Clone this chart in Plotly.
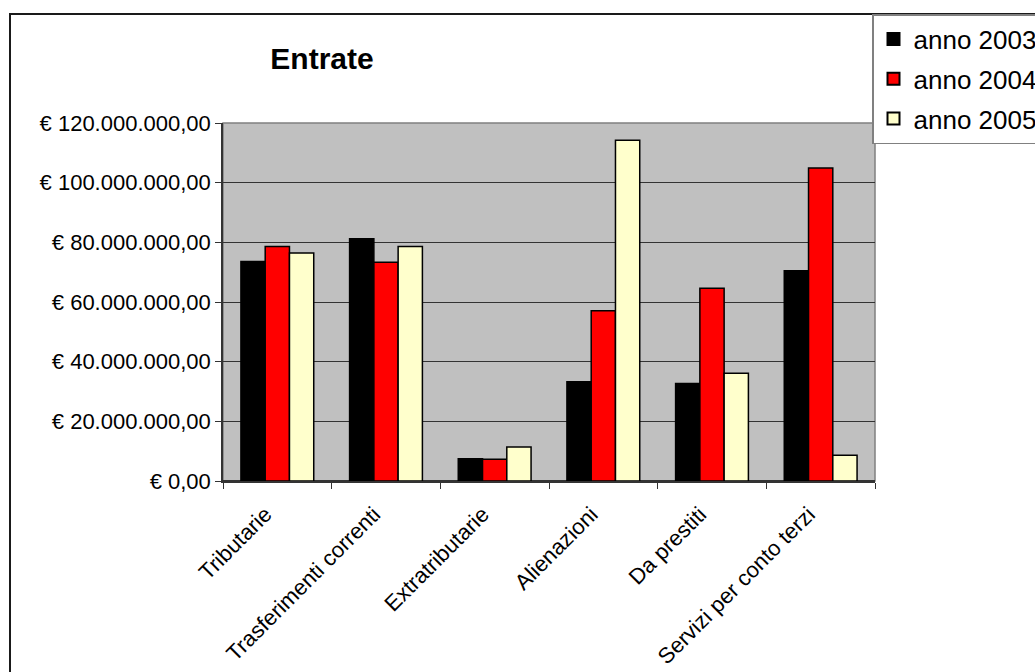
import plotly.graph_objects as go

categories = ["Tributarie", "Trasferimenti correnti", "Extratributarie",
              "Alienazioni", "Da prestiti", "Servizi per conto terzi"]
series_names = ["anno 2003", "anno 2004", "anno 2005"]
anno_2003 = [73.6e6, 81.2e6, 7.5e6, 33.3e6, 32.7e6, 70.5e6]
anno_2004 = [78.6e6, 73.3e6, 7.3e6, 57.1e6, 64.6e6, 104.9e6]
anno_2005 = [76.4e6, 78.6e6, 11.4e6, 114.2e6, 36.1e6, 8.6e6]
tick_values = [0, 20e6, 40e6, 60e6, 80e6, 100e6, 120e6]
tick_labels = ["€ 0,00", "€ 20.000.000,00", "€ 40.000.000,00", "€ 60.000.000,00",
               "€ 80.000.000,00", "€ 100.000.000,00", "€ 120.000.000,00"]
colors = ["#000000", "#FF0000", "#FFFFCC"]

FONT = "Liberation Sans, Arial, sans-serif"

fig = go.Figure()
for name, vals, col in zip(series_names, [anno_2003, anno_2004, anno_2005], colors):
    fig.add_trace(go.Bar(
        x=categories, y=vals, name=name, legendgroup=name,
        marker=dict(color=col, line=dict(color="#000000", width=1.5)),
    ))

# plot area in pixels: x 223..875, y 123..481
L, R, T, B = 223, 875, 123, 481
W, H = R - L, B - T

def px_x(p):
    return (p - L) / W

def px_y(p):
    return (B - p) / H

fig.update_layout(
    width=1035, height=672,
    margin=dict(l=L, r=1035 - R, t=T, b=672 - B, autoexpand=False),
    paper_bgcolor="white",
    plot_bgcolor="#C0C0C0",
    barmode="group",
    bargap=0.33,
    bargroupgap=0,
    font=dict(family=FONT, color="#000000", size=22),
    title=dict(text="Entrate", font=dict(family=FONT, size=30, weight="bold", color="#000"),
               x=px_x(322), xref="paper", xanchor="center",
               y=1 - 58 / 672, yref="container", yanchor="middle"),
    legend=dict(x=px_x(872), y=px_y(14), xanchor="left", yanchor="top",
                xref="paper", yref="paper",
                bgcolor="white", bordercolor="#808080", borderwidth=1.5,
                font=dict(family=FONT, size=26, color="#000"),
                tracegroupgap=3, itemsizing="constant", itemwidth=30),
    xaxis=dict(type="category", tickangle=-45, tickfont=dict(size=22),
               ticklabelstandoff=10, ticklabelshift=-12,
               showline=True, linecolor="#333333", linewidth=1.5,
               ticks="outside", tickson="boundaries", ticklen=6, tickcolor="#333333",
               showgrid=False),
    yaxis=dict(range=[0, 120e6], tickvals=tick_values, ticktext=tick_labels,
               tickfont=dict(size=22),
               showline=True, linecolor="#333333", linewidth=1.5,
               ticks="outside", ticklen=6, tickcolor="#333333",
               showgrid=True, gridcolor="#333333", gridwidth=1,
               zeroline=True, zerolinecolor="#333333", zerolinewidth=1.5),
    shapes=[
        dict(type="rect", xref="paper", yref="paper", x0=0, x1=1, y0=0, y1=1,
             line=dict(color="#808080", width=1.5), layer="below"),
        dict(type="rect", xref="paper", yref="paper",
             x0=px_x(10), x1=px_x(1045), y0=px_y(690), y1=px_y(14),
             line=dict(color="#1a1a1a", width=2), layer="below"),
    ],
)

fig.write_html("out.html")
